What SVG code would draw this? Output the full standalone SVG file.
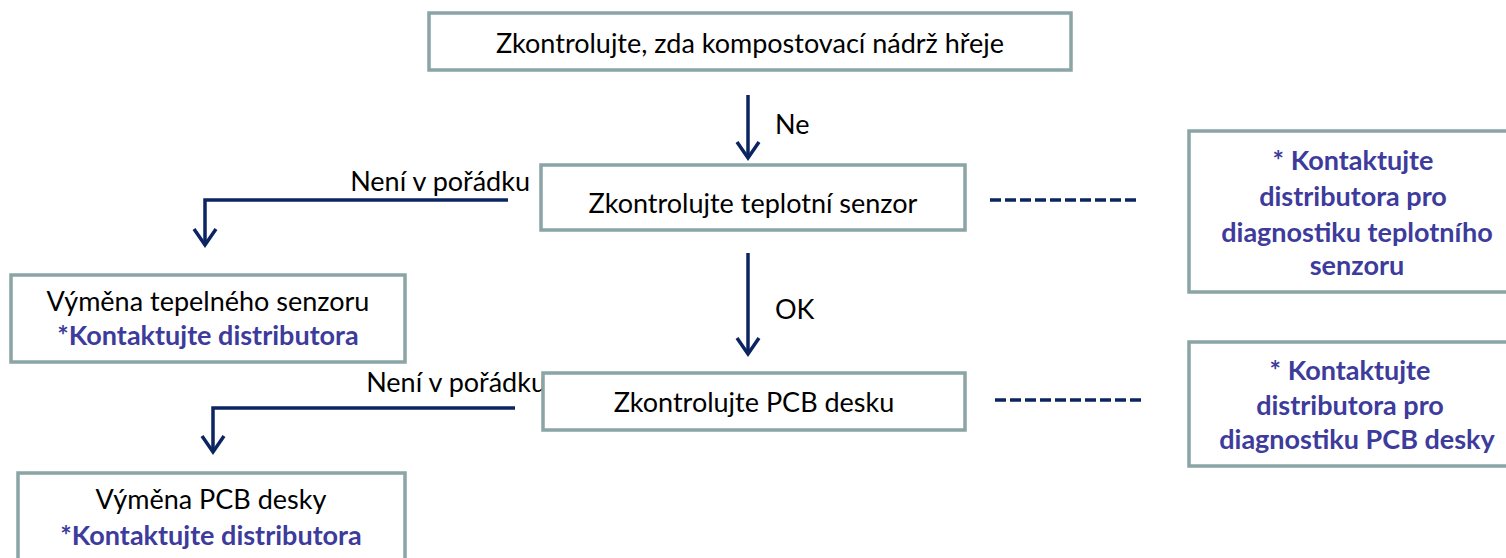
<svg xmlns="http://www.w3.org/2000/svg" width="1506" height="558" viewBox="0 0 1506 558">
<defs>
<style>
.box{fill:#fff;stroke:#8ba4a5;stroke-width:3.5}
.t{font-family:Lato,"Liberation Sans",sans-serif;font-size:27px;fill:#000;text-anchor:middle}
.b{font-family:Lato,"Liberation Sans",sans-serif;font-size:27px;font-weight:bold;fill:#3d3b9b;text-anchor:middle}
.l{font-family:Lato,"Liberation Sans",sans-serif;font-size:27px;fill:#000}
.c{fill:none;stroke:#0c2461;stroke-width:3.5}
.d{fill:none;stroke:#0c2461;stroke-width:3.5;stroke-dasharray:11 4}
</style>
</defs>
<g id="connectors">
<path class="c" d="M748 95 V157"/><path class="c" d="M737 142 L748 158 L759 142"/>
<path class="c" d="M748 253 V354"/><path class="c" d="M737 338 L748 354 L759 338"/>
<path class="c" d="M508 200 H205 V245"/><path class="c" d="M194 229 L205 245 L216 229"/>
<path class="c" d="M515 408 H213 V452"/><path class="c" d="M202 436 L213 452 L224 436"/>
<path class="d" d="M990 200 H1140"/>
<path class="d" d="M995 400 H1141"/>
<text class="l" x="775" y="134">Ne</text>
<text class="l" x="775" y="319">OK</text>
<text class="l" x="530" y="191" text-anchor="end">Není v pořádku</text>
<text class="l" x="546" y="392" text-anchor="end">Není v pořádku</text>
</g>
<g id="n1"><rect class="box" x="429" y="13" width="642" height="57"/><text class="t" x="750" y="53">Zkontrolujte, zda kompostovací nádrž hřeje</text></g>
<g id="n2"><rect class="box" x="541" y="165" width="424" height="65"/><text class="t" x="753" y="213">Zkontrolujte teplotní senzor</text></g>
<g id="n3"><rect class="box" x="11" y="275" width="394" height="87"/><text class="t" x="208" y="311">Výměna tepelného senzoru</text><text class="b" x="208" y="345">*Kontaktujte distributora</text></g>
<g id="n4"><rect class="box" x="1189" y="131" width="330" height="161"/><text class="b" x="1353" y="170">* Kontaktujte</text><text class="b" x="1353" y="206">distributora pro</text><text class="b" x="1357" y="242">diagnostiku teplotního</text><text class="b" x="1357" y="275">senzoru</text></g>
<g id="n5"><rect class="box" x="543" y="373" width="422" height="57"/><text class="t" x="754" y="412">Zkontrolujte PCB desku</text></g>
<g id="n6"><rect class="box" x="1189" y="342" width="330" height="124"/><text class="b" x="1350" y="380">* Kontaktujte</text><text class="b" x="1350" y="415">distributora pro</text><text class="b" x="1357" y="449">diagnostiku PCB desky</text></g>
<g id="n7"><rect class="box" x="18" y="473" width="387" height="100"/><text class="t" x="211" y="509">Výměna PCB desky</text><text class="b" x="211" y="545">*Kontaktujte distributora</text></g>
</svg>
